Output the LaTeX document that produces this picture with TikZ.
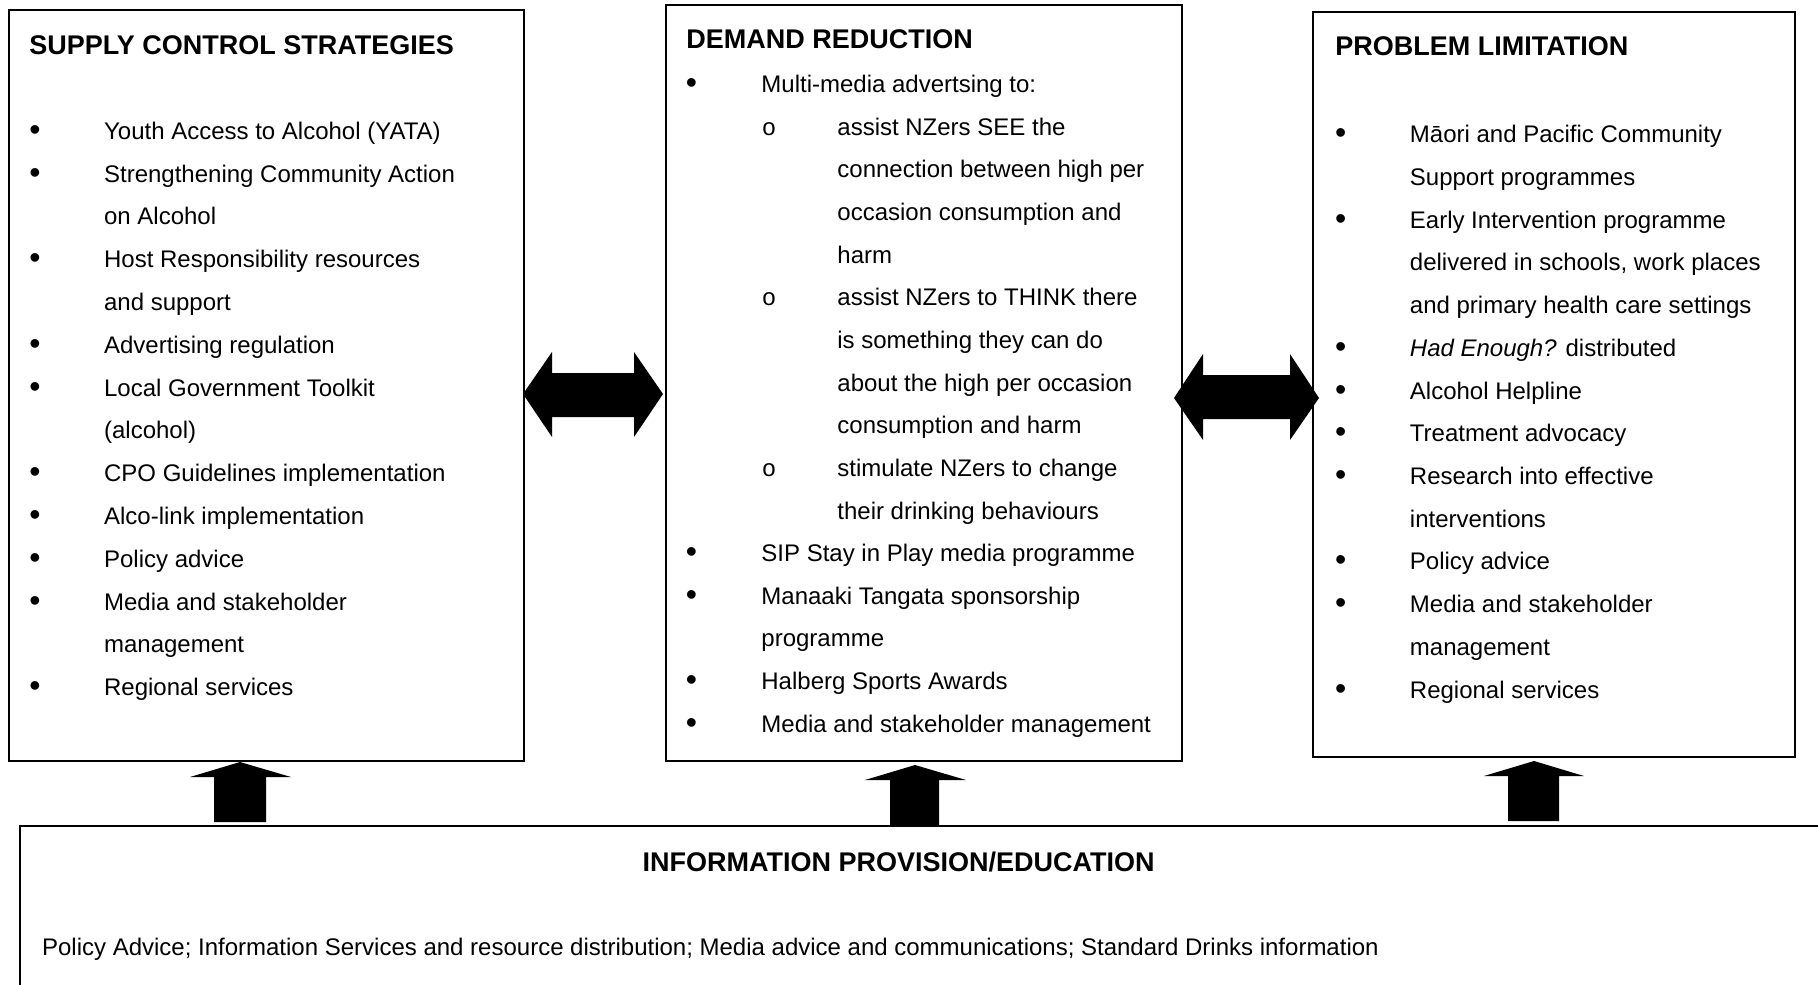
\documentclass[tikz,border=0pt]{standalone}
\usepackage{fontspec}
\setmainfont{Liberation Sans}
\newfontfamily\monofnt{Liberation Mono}
\usetikzlibrary{fit}
\begin{document}
\begin{tikzpicture}[x=0.5pt,y=-0.5pt,
  box/.style={draw,line width=0.9pt,inner sep=0pt},
  txt/.style={anchor=base west,inner sep=0pt,font=\fontsize{12pt}{14pt}\selectfont},
  bul/.style={anchor=base west,inner sep=0pt,yshift=-0.5pt,font=\fontsize{16pt}{18pt}\selectfont},
  subb/.style={anchor=base west,inner sep=0pt,font=\monofnt\fontsize{12pt}{14pt}\selectfont},
  head/.style={anchor=base west,inner sep=0pt,font=\fontsize{13.5pt}{15pt}\selectfont\bfseries},
  blk/.style={fill=black,draw=none}]
\useasboundingbox (0,0) rectangle (1818,984);
\clip (0,0) rectangle (1818,984);

% boxes
\node[box,fit={(9,10) (524,761)}] (supply) {};
\node[box,fit={(666,5) (1182,761)}] (demand) {};
\node[box,fit={(1313,12) (1795,757)}] (problem) {};
\node[box,fit={(20,826) (1840,1010)}] (info) {};

% headings
\node[head] (hs) at (29,54.5) {SUPPLY CONTROL STRATEGIES};
\node[head] (hd) at (686,49) {DEMAND REDUCTION};
\node[head] (hp) at (1335,56) {PROBLEM LIMITATION};
\node[head,anchor=base] (hi) at (898.6,871) {INFORMATION PROVISION/EDUCATION};
\node[txt] (ti) at (41.7,955) {Policy Advice; Information Services and resource distribution; Media advice and communications; Standard Drinks information};

% left list
\foreach \b/\t [count=\i from 0] in {
 1/Youth Access to Alcohol (YATA),
 1/Strengthening Community Action,
 0/on Alcohol,
 1/Host Responsibility resources,
 0/and support,
 1/Advertising regulation,
 1/Local Government Toolkit,
 0/(alcohol),
 1/CPO Guidelines implementation,
 1/Alco-link implementation,
 1/Policy advice,
 1/Media and stakeholder,
 0/management,
 1/Regional services}{
  \pgfmathsetmacro\yy{139.3+42.8*\i}
  \node[txt] (sl\i) at (103.7,\yy) {\t};
  \ifnum\b=1 \node[bul] (sb\i) at (29,\yy) {•};\fi
}

% middle list
\foreach \b/\t [count=\i from 0] in {
 1/Multi-media advertsing to:,
 2/assist NZers SEE the,
 3/connection between high per,
 3/occasion consumption and,
 3/harm,
 2/assist NZers to THINK there,
 3/is something they can do,
 3/about the high per occasion,
 3/consumption and harm,
 2/stimulate NZers to change,
 3/their drinking behaviours,
 1/SIP Stay in Play media programme,
 1/Manaaki Tangata sponsorship,
 0/programme,
 1/Halberg Sports Awards,
 1/Media and stakeholder management}{
  \pgfmathsetmacro\yy{92.5+42.65*\i}
  \ifnum\b<2 \node[txt] (dl\i) at (761,\yy) {\t};\else\node[txt] (dl\i) at (837,\yy) {\t};\fi
  \ifnum\b=1 \node[bul] (db\i) at (685.4,\yy) {•};\fi
  \ifnum\b=2 \node[subb] (db\i) at (761.5,\yy) {o};\fi
}

% right list
\foreach \b/\t [count=\i from 0] in {
 1/Māori and Pacific Community,
 0/Support programmes,
 1/Early Intervention programme,
 0/{delivered in schools, work places},
 0/and primary health care settings,
 1/{\textit{Had Enough?} distributed},
 1/Alcohol Helpline,
 1/Treatment advocacy,
 1/Research into effective,
 0/interventions,
 1/Policy advice,
 1/Media and stakeholder,
 0/management,
 1/Regional services}{
  \pgfmathsetmacro\yy{142.7+42.72*\i}
  \node[txt] (pl\i) at (1409.5,\yy) {\t};
  \ifnum\b=1 \node[bul] (pb\i) at (1334.7,\yy) {•};\fi
}

% double block arrows
\fill[blk] (523,394) -- (552,352) -- (552,373) -- (634,373) -- (634,352) -- (663,394)
  -- (634,437) -- (634,417) -- (552,417) -- (552,437) -- cycle;
\fill[blk] (1174,398) -- (1203,354) -- (1203,375) -- (1290,375) -- (1290,354) -- (1319,398)
  -- (1290,440) -- (1290,419) -- (1203,419) -- (1203,440) -- cycle;

% up block arrows
\fill[blk] (240,762) -- (291,777) -- (266,777) -- (266,822) -- (214,822) -- (214,777) -- (190,777) -- cycle;
\fill[blk] (915,765) -- (966,780) -- (939,780) -- (939,826) -- (890,826) -- (890,780) -- (865,780) -- cycle;
\fill[blk] (1534,761) -- (1584,776) -- (1559,776) -- (1559,821) -- (1508,821) -- (1508,776) -- (1484,776) -- cycle;
\end{tikzpicture}
\end{document}
